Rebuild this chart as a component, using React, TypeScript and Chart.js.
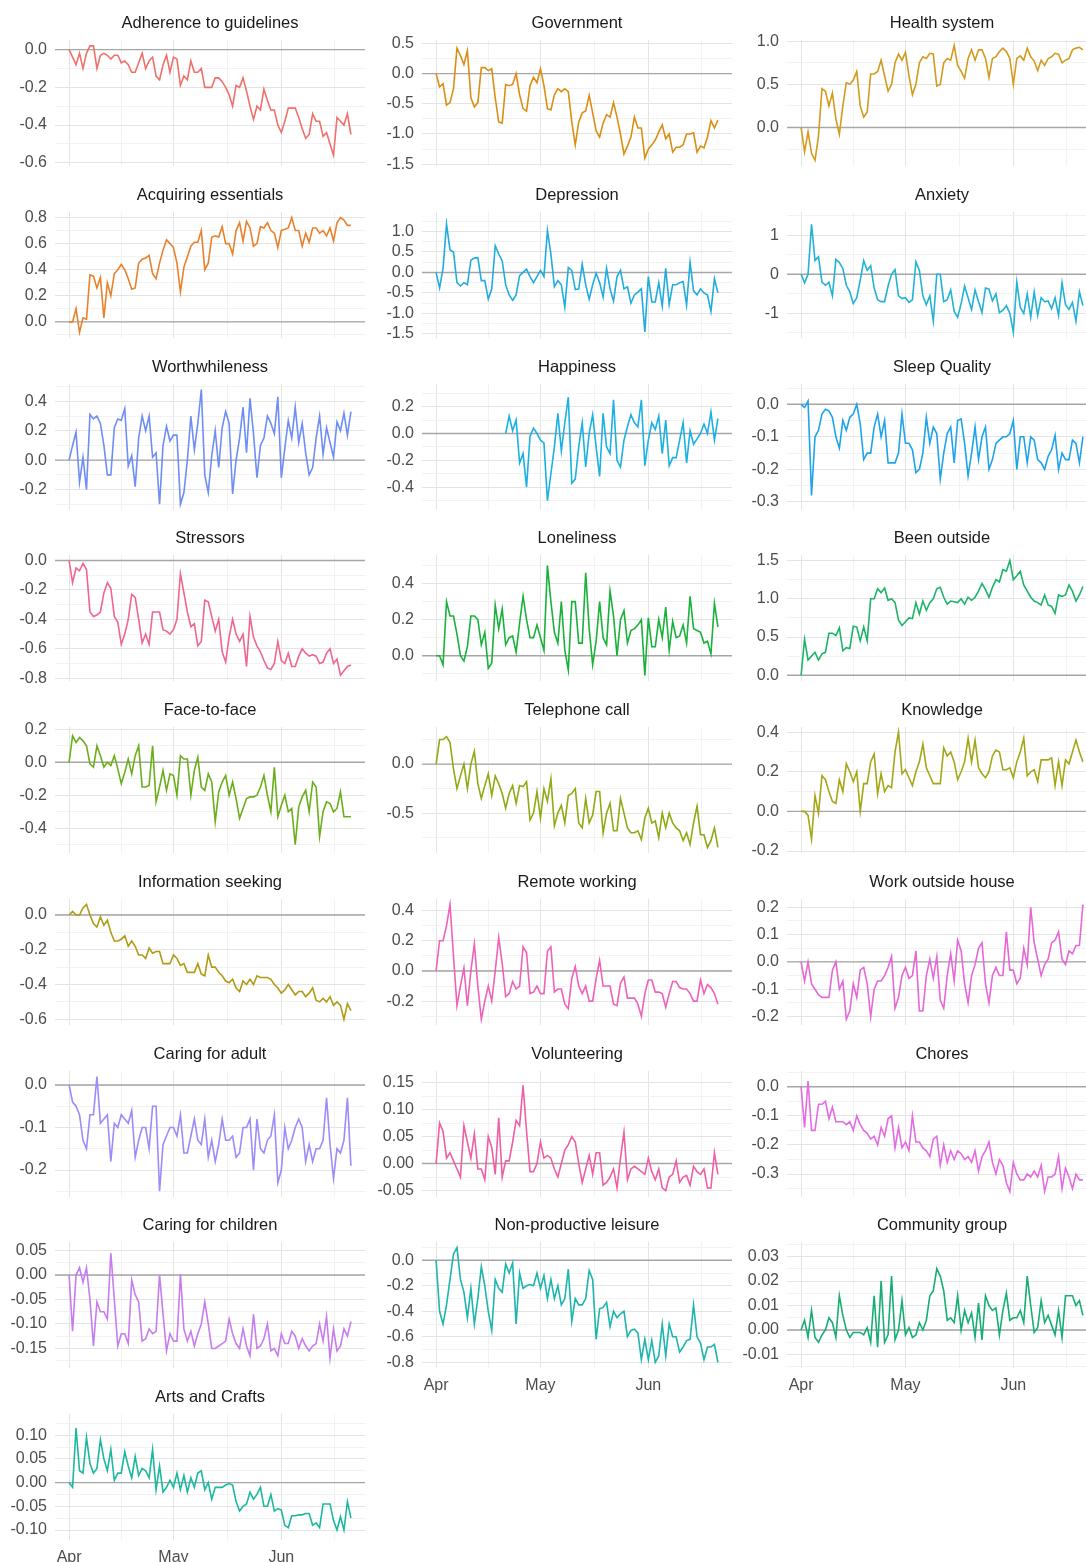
import React, { useEffect, useRef } from 'react';
import { Chart, registerables } from 'chart.js';

Chart.register(...registerables);

// x values: days since 1 April (Apr 1 .. Jun 21)
const days = Array.from({ length: 82 }, (_, i) => i);
const monthDays = [0, 30, 61];
const monthNames = ['Apr', 'May', 'Jun'];
const monthMinorDays = [15, 45.5, 76.25];

const adherence = [
  0, -0.04, -0.08, -0.02, -0.1, -0.02, 0.02, 0.02, -0.1, -0.03,
  -0.02, -0.03, -0.05, -0.03, -0.03, -0.07, -0.06, -0.08, -0.12, -0.12,
  -0.07, -0.02, -0.1, -0.06, -0.04, -0.14, -0.16, -0.08, -0.03, -0.12,
  -0.04, -0.05, -0.19, -0.14, -0.16, -0.06, -0.12, -0.12, -0.1, -0.2,
  -0.2, -0.2, -0.15, -0.15, -0.17, -0.2, -0.24, -0.3, -0.19, -0.2,
  -0.15, -0.22, -0.3, -0.37, -0.3, -0.32, -0.21, -0.27, -0.32, -0.32,
  -0.4, -0.44, -0.38, -0.31, -0.31, -0.31, -0.36, -0.42, -0.47, -0.45,
  -0.34, -0.38, -0.38, -0.46, -0.44, -0.5, -0.56, -0.36, -0.38, -0.4,
  -0.34, -0.45,
];
const government = [
  0, -0.22, -0.17, -0.52, -0.48, -0.25, 0.42, 0.3, 0.15, 0.38,
  -0.4, -0.55, -0.48, 0.1, 0.1, 0.05, 0.08, -0.4, -0.8, -0.82,
  -0.18, -0.2, -0.18, 0, -0.35, -0.58, -0.62, -0.2, -0.06, -0.15,
  0.08, -0.2, -0.58, -0.6, -0.35, -0.25, -0.3, -0.25, -0.3, -0.8,
  -1.18, -0.8, -0.65, -0.62, -0.36, -0.65, -0.95, -1.05, -0.82, -0.68,
  -0.72, -0.48, -0.72, -1.0, -1.33, -1.2, -1.05, -0.72, -0.9, -0.9,
  -1.4, -1.25, -1.18, -1.1, -0.97, -0.85, -1.08, -1.0, -1.3, -1.22,
  -1.22, -1.18, -1.0, -1.0, -0.98, -1.3, -1.2, -1.23, -1.05, -0.78,
  -0.9, -0.77,
];
const healthSystem = [
  0, -0.28, -0.05, -0.3, -0.38, -0.1, 0.45, 0.42, 0.25, 0.4,
  0.1, -0.08, 0.25, 0.52, 0.5, 0.55, 0.65, 0.25, 0.12, 0.18,
  0.62, 0.62, 0.65, 0.78, 0.6, 0.42, 0.5, 0.75, 0.85, 0.78,
  0.87, 0.6, 0.38, 0.5, 0.75, 0.82, 0.8, 0.86, 0.85, 0.48,
  0.5, 0.75, 0.8, 0.78, 0.95, 0.72, 0.65, 0.57, 0.8, 0.9,
  0.78, 0.9, 0.9, 0.8, 0.58, 0.8, 0.82, 0.88, 0.92, 0.88,
  0.8, 0.5, 0.8, 0.83, 0.78, 0.92, 0.82, 0.77, 0.66, 0.78,
  0.72, 0.8, 0.82, 0.86, 0.85, 0.75, 0.78, 0.8, 0.9, 0.92,
  0.93, 0.9,
];
const acquiringEssentials = [
  0, 0, 0.1, -0.08, 0.03, 0.02, 0.36, 0.35, 0.26, 0.34,
  0.03, 0.3, 0.2, 0.37, 0.4, 0.44, 0.4, 0.33, 0.25, 0.26,
  0.45, 0.48, 0.49, 0.51, 0.37, 0.33, 0.45, 0.55, 0.63, 0.6,
  0.57, 0.45, 0.23, 0.42, 0.5, 0.58, 0.61, 0.61, 0.7, 0.4,
  0.45, 0.65, 0.66, 0.65, 0.73, 0.6, 0.6, 0.52, 0.7, 0.76,
  0.62, 0.77, 0.72, 0.58, 0.6, 0.73, 0.72, 0.76, 0.7, 0.68,
  0.57, 0.7, 0.71, 0.72, 0.8, 0.7, 0.7, 0.58, 0.68, 0.61,
  0.72, 0.72, 0.68, 0.7, 0.66, 0.72, 0.62, 0.76, 0.8, 0.78,
  0.74, 0.74,
];
const depression = [
  0, -0.38, 0.1, 1.18, 0.55, 0.5, -0.25, -0.33, -0.25, -0.3,
  0.3, 0.35, 0.36, -0.2, -0.2, -0.65, -0.4, 0.65, 0.45, 0.28,
  -0.3, -0.55, -0.68, -0.55, -0.08, 0, 0.08, -0.1, -0.25, -0.1,
  0.05, -0.1, 1.02, 0.45, -0.35, -0.2, -0.3, -0.85, 0.12, 0.05,
  -0.42, -0.4, 0.2, -0.3, -0.65, -0.3, -0.02, -0.25, -0.6, 0.1,
  -0.4, -0.7, -0.1, 0.05, -0.4, -0.35, -0.75, -0.55, -0.48, -0.4,
  -1.45, -0.1, -0.72, -0.72, -0.25, -0.82, 0.1, -0.78, -0.3, -0.3,
  -0.25, -0.22, -0.8, 0.25, -0.45, -0.55, -0.4, -0.5, -0.55, -0.95,
  -0.15, -0.5,
];
const anxiety = [
  0, -0.22, 0, 1.28, 0.35, 0.45, -0.2, -0.28, -0.2, -0.55,
  0.38, 0.3, 0.15, -0.28, -0.45, -0.75, -0.6, -0.15, 0.35, 0.1,
  0.22, -0.35, -0.65, -0.7, -0.7, -0.3, 0, 0.12, -0.55, -0.62,
  -0.6, -0.72, -0.65, 0.32, 0.1, -0.55, -0.78, -0.55, -1.2, 0,
  0, -0.7, -0.65, -0.4, -0.95, -1.1, -0.75, -0.3, -0.6, -0.9,
  -0.4, -0.7, -0.98, -0.35, -0.38, -0.68, -0.5, -0.98, -0.92, -0.8,
  -1.0, -1.48, -0.2, -0.85, -1.0, -0.5, -1.1, -0.45, -1.05, -0.6,
  -0.7, -0.68, -0.88, -0.6, -1.05, -0.22, -0.78, -0.9, -0.72, -1.2,
  -0.45, -0.8,
];
const worthwhileness = [
  0, 0.1, 0.19, -0.15, 0.02, -0.2, 0.31, 0.28, 0.3, 0.25,
  0.1, -0.1, -0.1, 0.22, 0.28, 0.27, 0.35, -0.04, 0.03, -0.18,
  0.15, 0.3, 0.2, 0.3, 0.02, 0.05, -0.3, 0.1, 0.23, 0.13,
  0.17, 0.17, -0.3, -0.22, 0, 0.3, 0.07, 0.25, 0.48, -0.1,
  -0.22, 0.03, 0.2, -0.05, 0.22, 0.33, 0.25, -0.23, 0, 0.15,
  0.36, 0.05, 0.42, 0.18, -0.12, 0.1, 0.15, 0.3, 0.25, 0.18,
  0.43, -0.12, 0.08, 0.27, 0.15, 0.36, 0.12, 0.25, 0.05, -0.1,
  -0.05, 0.15, 0.3, 0.04, 0.22, 0.12, 0.02, 0.26, 0.2, 0.32,
  0.17, 0.33,
];
const happiness = [
  null, null, null, null, null, null, null, null, null, null,
  null, null, null, null, null, null, null, null, null, null,
  0, 0.13, 0.02, 0.1, -0.22, -0.15, -0.4, -0.02, 0.04, 0,
  -0.05, -0.07, -0.5, -0.3, -0.1, 0.15, -0.13, 0.08, 0.27, -0.37,
  -0.34, -0.1, 0.08, -0.25, 0, 0.14, -0.1, -0.32, 0.15, -0.1,
  -0.15, 0.25, -0.2, -0.25, -0.05, 0.05, 0.14, 0.08, 0.05, 0.25,
  -0.24, -0.05, 0.08, 0.03, 0.13, -0.15, 0.1, -0.24, -0.18, -0.18,
  -0.05, 0.08, -0.22, 0.02, -0.08, -0.04, 0, 0.07, 0, 0.16,
  -0.05, 0.11,
];
const sleepQuality = [
  0, -0.01, 0.01, -0.28, -0.1, -0.08, -0.03, -0.015, -0.02, -0.04,
  -0.1, -0.135, -0.05, -0.08, -0.04, -0.03, 0, -0.06, -0.17, -0.15,
  -0.15, -0.07, -0.03, -0.1, -0.05, -0.18, -0.18, -0.18, -0.15, -0.03,
  -0.12, -0.12, -0.14, -0.21, -0.2, -0.15, -0.04, -0.12, -0.07, -0.09,
  -0.23, -0.15, -0.09, -0.07, -0.18, -0.05, -0.045, -0.12, -0.22, -0.15,
  -0.07, -0.17, -0.1, -0.07, -0.2, -0.17, -0.12, -0.11, -0.1, -0.1,
  -0.09, -0.05, -0.2, -0.1, -0.1, -0.18, -0.1, -0.11, -0.17, -0.18,
  -0.2, -0.16, -0.14, -0.095, -0.2, -0.15, -0.17, -0.17, -0.11, -0.12,
  -0.18, -0.1,
];
const stressors = [
  0, -0.15, -0.05, -0.07, -0.02, -0.06, -0.35, -0.38, -0.37, -0.35,
  -0.22, -0.15, -0.19, -0.38, -0.42, -0.57, -0.5, -0.4, -0.23, -0.25,
  -0.4, -0.56, -0.5, -0.57, -0.35, -0.35, -0.35, -0.47, -0.48, -0.5,
  -0.47, -0.4, -0.09, -0.22, -0.35, -0.45, -0.43, -0.58, -0.55, -0.27,
  -0.28, -0.38, -0.48, -0.4, -0.62, -0.69, -0.52, -0.4, -0.5, -0.55,
  -0.5, -0.72, -0.38, -0.52, -0.58, -0.62, -0.68, -0.73, -0.74, -0.7,
  -0.55, -0.68, -0.7, -0.63, -0.72, -0.72, -0.65, -0.6, -0.63, -0.65,
  -0.64, -0.65, -0.7, -0.69, -0.63, -0.6, -0.7, -0.67, -0.78, -0.75,
  -0.72, -0.71,
];
const loneliness = [
  0, 0, -0.05, 0.3, 0.22, 0.22, 0.12, 0, -0.03, 0.05,
  0.22, 0.22, 0.2, 0.06, 0.13, -0.07, -0.04, 0.28, 0.15, 0.26,
  0.06, 0.1, 0.11, 0.02, 0.18, 0.33, 0.2, 0.1, 0.1, 0.17,
  0.1, 0.03, 0.5, 0.3, 0.13, 0.07, 0.3, 0.03, -0.08, 0.3,
  0.3, 0.07, 0.07, 0.46, 0.15, -0.05, 0.08, 0.3, 0.1, 0.06,
  0.36, 0.22, 0, 0.2, 0.25, 0.07, 0.14, 0.15, 0.17, 0.2,
  -0.11, 0.21, 0.05, 0.05, 0.2, 0.1, 0.27, 0.03, 0.19, 0.1,
  0.11, 0.17, 0.07, 0.33, 0.15, 0.14, 0.13, 0.07, 0.08, 0.01,
  0.29, 0.16,
];
const beenOutside = [
  0, 0.47, 0.2, 0.25, 0.3, 0.2, 0.28, 0.3, 0.55, 0.55,
  0.52, 0.62, 0.32, 0.36, 0.35, 0.64, 0.63, 0.45, 0.63, 0.45,
  1.0, 1.0, 1.13, 1.08, 1.14, 0.98, 1.0, 0.95, 0.72, 0.65,
  0.7, 0.75, 0.74, 0.95, 0.8, 0.97, 0.85, 0.95, 1.0, 1.13,
  1.15, 1.02, 0.93, 0.97, 0.96, 0.95, 1.0, 0.93, 1.02, 0.98,
  1.02, 1.1, 1.2, 1.12, 1.02, 1.15, 1.25, 1.22, 1.38, 1.36,
  1.5, 1.25, 1.3, 1.36, 1.18, 1.1, 1.02, 0.97, 0.95, 0.92,
  1.05, 0.92, 0.9, 0.81, 1.05, 1.03, 1.05, 1.18, 1.1, 0.97,
  1.05, 1.16,
];
const faceToFace = [
  0, 0.16, 0.12, 0.15, 0.13, 0.1, -0.01, -0.03, 0.1, 0.04,
  -0.03, 0, -0.02, 0.04, -0.04, -0.13, -0.06, 0.02, -0.07, 0.04,
  0.1, -0.15, -0.15, -0.14, 0.1, -0.24, -0.15, -0.05, -0.17, -0.07,
  -0.08, -0.2, 0.04, 0.02, 0.02, -0.2, -0.05, 0.03, -0.15, -0.17,
  -0.07, -0.12, -0.36, -0.18, -0.12, -0.08, -0.2, -0.12, -0.22, -0.34,
  -0.28, -0.22, -0.21, -0.21, -0.2, -0.15, -0.08, -0.2, -0.3, -0.03,
  -0.33, -0.26, -0.2, -0.3, -0.28, -0.5, -0.27, -0.21, -0.17, -0.3,
  -0.12, -0.15, -0.45, -0.3, -0.24, -0.25, -0.3, -0.28, -0.18, -0.33,
  -0.33, -0.33,
];
const telephoneCall = [
  0, 0.25, 0.25, 0.28, 0.22, -0.05, -0.25, -0.12, 0, -0.25,
  0, 0.13, -0.2, -0.35, -0.22, -0.1, -0.32, -0.12, -0.2, -0.3,
  -0.45, -0.3, -0.22, -0.4, -0.22, -0.23, -0.18, -0.57, -0.5, -0.28,
  -0.55, -0.25, -0.38, -0.15, -0.63, -0.5, -0.42, -0.6, -0.32, -0.3,
  -0.25, -0.6, -0.65, -0.35, -0.6, -0.52, -0.28, -0.28, -0.7, -0.5,
  -0.4, -0.68, -0.68, -0.35, -0.5, -0.65, -0.7, -0.7, -0.68, -0.77,
  -0.55, -0.45, -0.6, -0.58, -0.75, -0.5, -0.65, -0.5, -0.6, -0.65,
  -0.68, -0.78, -0.7, -0.82, -0.6, -0.43, -0.72, -0.72, -0.85, -0.78,
  -0.65, -0.85,
];
const knowledge = [
  0, 0, -0.02, -0.14, 0.08, -0.01, 0.18, 0.16, 0.1, 0.05,
  0.04, 0.16, 0.1, 0.24, 0.2, 0.15, 0.2, 0, 0.14, 0.14,
  0.25, 0.29, 0.09, 0.19, 0.1, 0.13, 0.12, 0.3, 0.4, 0.19,
  0.21, 0.17, 0.13, 0.2, 0.25, 0.34, 0.22, 0.18, 0.14, 0.14,
  0.14, 0.32, 0.28, 0.3, 0.25, 0.16, 0.2, 0.25, 0.37, 0.25,
  0.36, 0.22, 0.19, 0.17, 0.2, 0.28, 0.31, 0.3, 0.21, 0.21,
  0.22, 0.17, 0.25, 0.3, 0.37, 0.18, 0.2, 0.21, 0.15, 0.26,
  0.26, 0.26, 0.27, 0.13, 0.25, 0.13, 0.26, 0.24, 0.3, 0.36,
  0.3, 0.25,
];
const informationSeeking = [
  0, 0.02, 0, 0, 0.04, 0.06, 0, -0.05, -0.07, -0.01,
  -0.06, -0.03, -0.1, -0.15, -0.15, -0.14, -0.12, -0.18, -0.15, -0.18,
  -0.23, -0.23, -0.25, -0.19, -0.22, -0.21, -0.21, -0.28, -0.28, -0.28,
  -0.23, -0.25, -0.29, -0.28, -0.33, -0.33, -0.33, -0.28, -0.34, -0.35,
  -0.23, -0.3, -0.3, -0.33, -0.35, -0.38, -0.39, -0.37, -0.42, -0.44,
  -0.38, -0.4, -0.37, -0.4, -0.35, -0.36, -0.36, -0.36, -0.37, -0.4,
  -0.42, -0.45, -0.43, -0.4, -0.43, -0.46, -0.44, -0.44, -0.47, -0.45,
  -0.42, -0.49, -0.5, -0.48, -0.5, -0.47, -0.52, -0.5, -0.52, -0.6,
  -0.51, -0.55,
];
const remoteWorking = [
  0, 0.2, 0.2, 0.3, 0.44, 0.1, -0.23, -0.1, 0.02, -0.23,
  0, 0.18, -0.1, -0.32, -0.2, -0.1, -0.2, 0, 0.22, 0.05,
  -0.17, -0.15, -0.07, -0.12, -0.1, 0.16, 0.12, -0.15, -0.14, -0.1,
  -0.15, -0.15, 0.13, 0.16, -0.14, -0.12, -0.12, -0.22, -0.25, -0.05,
  0.03, -0.1, -0.15, -0.1, -0.2, -0.2, -0.05, 0.07, -0.1, -0.1,
  -0.1, -0.22, -0.23, -0.08, -0.04, -0.18, -0.18, -0.18, -0.22, -0.3,
  -0.15, -0.06, -0.06, -0.14, -0.14, -0.15, -0.24, -0.15, -0.07, -0.07,
  -0.11, -0.12, -0.12, -0.15, -0.2, -0.2, -0.06, -0.15, -0.09, -0.11,
  -0.15, -0.22,
];
const workOutsideHouse = [
  0, -0.07, 0, -0.08, -0.1, -0.12, -0.13, -0.13, -0.13, -0.03,
  0, -0.1, -0.07, -0.21, -0.18, -0.08, -0.13, -0.03, -0.02, -0.08,
  -0.2, -0.1, -0.07, -0.07, -0.05, -0.02, 0.02, -0.17, -0.13, -0.05,
  -0.02, -0.06, -0.05, 0.04, -0.18, -0.18, -0.05, 0.01, -0.06, 0.02,
  -0.14, -0.17, -0.05, 0.03, -0.07, 0.08, 0.04, -0.08, -0.15, -0.05,
  -0.01, 0.05, 0.07, -0.08, -0.15, -0.05, -0.02, -0.05, -0.05, 0.11,
  -0.03, -0.03, -0.08, -0.06, 0.05, -0.01, 0.2, 0.07, 0.01, -0.05,
  -0.01, 0.01, 0.07, 0.08, 0.11, 0.01, -0.01, 0.04, 0.03, 0.06,
  0.06, 0.21,
];
const caringForAdult = [
  0, -0.04, -0.05, -0.07, -0.13, -0.15, -0.07, -0.07, 0.02, -0.09,
  -0.08, -0.07, -0.18, -0.09, -0.1, -0.07, -0.08, -0.09, -0.06, -0.17,
  -0.13, -0.1, -0.1, -0.15, -0.05, -0.05, -0.25, -0.14, -0.12, -0.1,
  -0.1, -0.12, -0.07, -0.16, -0.16, -0.12, -0.08, -0.13, -0.14, -0.08,
  -0.17, -0.13, -0.18, -0.14, -0.08, -0.13, -0.13, -0.12, -0.17, -0.16,
  -0.1, -0.1, -0.08, -0.2, -0.08, -0.15, -0.16, -0.13, -0.12, -0.07,
  -0.23, -0.2, -0.1, -0.15, -0.13, -0.1, -0.08, -0.1, -0.18, -0.14,
  -0.18, -0.15, -0.15, -0.13, -0.03, -0.14, -0.22, -0.15, -0.16, -0.13,
  -0.03, -0.19,
];
const volunteering = [
  0, 0.075, 0.06, 0.01, 0.02, 0.005, -0.01, -0.025, 0.07, 0.04,
  0.01, 0.055, -0.01, -0.01, -0.03, 0.05, 0.03, -0.02, 0.085, -0.025,
  0.005, 0.005, 0.04, 0.08, 0.07, 0.145, 0.06, -0.015, -0.015, 0,
  0.04, 0.01, 0.015, 0.01, -0.01, -0.025, 0, 0.025, 0.035, 0.05,
  0.04, 0, -0.035, -0.01, 0.015, -0.02, 0.02, 0.02, -0.04, -0.035,
  -0.025, -0.01, -0.045, 0.01, 0.058, -0.03, -0.01, -0.005, -0.01, -0.015,
  -0.02, 0.01, -0.015, -0.03, -0.01, -0.045, -0.05, -0.025, -0.02, 0.005,
  -0.035, -0.025, -0.022, -0.04, -0.005, -0.015, -0.02, -0.01, -0.045, -0.045,
  0.02, -0.02,
];
const chores = [
  0, -0.14, 0.02, -0.15, -0.15, -0.06, -0.06, -0.05, -0.11, -0.07,
  -0.12, -0.12, -0.12, -0.13, -0.12, -0.15, -0.1, -0.13, -0.15, -0.16,
  -0.18, -0.17, -0.2, -0.14, -0.17, -0.11, -0.1, -0.21, -0.14, -0.21,
  -0.19, -0.22, -0.1, -0.19, -0.19, -0.21, -0.22, -0.24, -0.18, -0.17,
  -0.27, -0.2, -0.26, -0.22, -0.25, -0.22, -0.23, -0.25, -0.24, -0.26,
  -0.22, -0.29, -0.24, -0.22, -0.19, -0.26, -0.3, -0.25, -0.27, -0.33,
  -0.36, -0.26, -0.3, -0.32, -0.32, -0.3, -0.31, -0.29, -0.31, -0.27,
  -0.36, -0.31, -0.31, -0.3, -0.24, -0.35, -0.28, -0.31, -0.35, -0.3,
  -0.32, -0.32,
];
const caringForChildren = [
  0, -0.115, 0, 0.015, -0.015, 0.015, -0.05, -0.145, -0.055, -0.075,
  -0.075, -0.09, 0.045, -0.05, -0.145, -0.12, -0.12, -0.14, -0.01, -0.04,
  -0.055, -0.135, -0.13, -0.11, -0.12, -0.115, 0, -0.08, -0.155, -0.12,
  -0.135, -0.135, 0.002, -0.11, -0.135, -0.115, -0.145, -0.12, -0.1, -0.055,
  -0.1, -0.15, -0.15, -0.145, -0.14, -0.135, -0.09, -0.12, -0.14, -0.15,
  -0.11, -0.145, -0.165, -0.08, -0.15, -0.145, -0.13, -0.1, -0.155, -0.15,
  -0.165, -0.12, -0.14, -0.14, -0.115, -0.125, -0.15, -0.13, -0.145, -0.155,
  -0.145, -0.14, -0.1, -0.135, -0.085, -0.17, -0.11, -0.155, -0.145, -0.11,
  -0.125, -0.095,
];
const nonProductiveLeisure = [
  0, -0.4, -0.5, -0.35, -0.15, 0.05, 0.1, -0.15, -0.25, -0.45,
  -0.22, -0.5, -0.3, -0.05, -0.2, -0.4, -0.55, -0.15, -0.22, -0.25,
  -0.03, -0.1, -0.02, -0.5, -0.1, -0.22, -0.2, -0.19, -0.2, -0.1,
  -0.22, -0.12, -0.3, -0.15, -0.3, -0.2, -0.35, -0.3, -0.07, -0.48,
  -0.3, -0.35, -0.35, -0.3, -0.08, -0.15, -0.62, -0.38, -0.37, -0.33,
  -0.52, -0.4, -0.45, -0.42, -0.4, -0.6, -0.55, -0.54, -0.57, -0.78,
  -0.62, -0.78, -0.63, -0.8, -0.75, -0.5, -0.75, -0.5, -0.6, -0.6,
  -0.72, -0.68, -0.63, -0.62, -0.35, -0.6, -0.65, -0.78, -0.68, -0.68,
  -0.66, -0.8,
];
const communityGroup = [
  0, 0.004, -0.003, 0.008, -0.003, -0.005, -0.002, 0, 0.005, 0.003,
  -0.003, 0.014, 0.006, 0, -0.003, -0.001, -0.001, -0.001, -0.002, 0.001,
  -0.005, 0.014, -0.007, 0.02, -0.005, -0.002, 0.022, -0.004, 0, 0.012,
  -0.002, 0.001, -0.003, -0.002, 0.003, 0, 0.004, 0.014, 0.016, 0.025,
  0.022, 0.016, 0.004, 0.005, 0.003, 0.014, 0, 0.008, 0.003, 0.007,
  -0.003, 0.011, -0.004, 0.014, 0.01, 0.008, 0.009, -0.002, 0.008, 0.015,
  0.004, 0.005, 0.005, 0.008, 0.003, 0.022, 0.01, -0.001, 0.001, 0.012,
  0.003, 0.006, 0.002, -0.002, 0.008, -0.003, 0.014, 0.014, 0.014, 0.01,
  0.012, 0.006,
];
const artsAndCrafts = [
  0, -0.01, 0.115, 0.025, 0.02, 0.095, 0.04, 0.02, 0.03, 0.09,
  0.05, 0.025, 0.07, 0.005, 0.02, 0.02, 0.065, 0.035, 0.01, 0.055,
  0.015, 0.03, 0.025, 0.01, 0.07, -0.015, 0.035, -0.02, -0.01, 0.005,
  -0.01, 0.02, -0.015, 0.015, -0.02, 0.01, -0.01, 0.02, 0.025, -0.015,
  0, -0.035, -0.01, -0.01, -0.01, -0.005, -0.002, -0.005, -0.04, -0.06,
  -0.05, -0.045, -0.02, -0.035, -0.025, -0.01, -0.05, -0.05, -0.025, -0.06,
  -0.055, -0.058, -0.09, -0.095, -0.07, -0.07, -0.068, -0.068, -0.065, -0.065,
  -0.09, -0.085, -0.095, -0.045, -0.045, -0.045, -0.08, -0.1, -0.072, -0.1,
  -0.04, -0.075,
];

type PanelDef = {
  title: string;
  values: (number | null)[];
  ticks: number[];
  digits: number;
  color: string;
  lo?: number;
  hi?: number;
};

// lo / hi: axis limits where the original range (with its confidence band) is wider than the line
const panels: PanelDef[] = [
  { title: 'Adherence to guidelines', values: adherence, ticks: [-0.6, -0.4, -0.2, 0], digits: 1, color: '#F0706A', lo: -0.617, hi: 0.052 },
  { title: 'Government', values: government, ticks: [-1.5, -1, -0.5, 0, 0.5], digits: 1, color: '#DB8E12', lo: -1.53, hi: 0.56 },
  { title: 'Health system', values: healthSystem, ticks: [0, 0.5, 1], digits: 1, color: '#D39B1E' },
  { title: 'Acquiring essentials', values: acquiringEssentials, ticks: [0, 0.2, 0.4, 0.6, 0.8], digits: 1, color: '#E8822E' },
  { title: 'Depression', values: depression, ticks: [-1.5, -1, -0.5, 0, 0.5, 1], digits: 1, color: '#21ACE0', lo: -1.6, hi: 1.48 },
  { title: 'Anxiety', values: anxiety, ticks: [-1, 0, 1], digits: 0, color: '#22B2D6', lo: -1.63, hi: 1.6 },
  { title: 'Worthwhileness', values: worthwhileness, ticks: [-0.2, 0, 0.2, 0.4], digits: 1, color: '#6E8EF5' },
  { title: 'Happiness', values: happiness, ticks: [-0.4, -0.2, 0, 0.2], digits: 1, color: '#1CB1E4', lo: -0.57, hi: 0.37 },
  { title: 'Sleep Quality', values: sleepQuality, ticks: [-0.3, -0.2, -0.1, 0], digits: 1, color: '#1FA3EC', lo: -0.325, hi: 0.063 },
  { title: 'Stressors', values: stressors, ticks: [-0.8, -0.6, -0.4, -0.2, 0], digits: 1, color: '#F0668D' },
  { title: 'Loneliness', values: loneliness, ticks: [0, 0.2, 0.4], digits: 1, color: '#18B23A', hi: 0.56 },
  { title: 'Been outside', values: beenOutside, ticks: [0, 0.5, 1, 1.5], digits: 1, color: '#1EB36A' },
  { title: 'Face-to-face', values: faceToFace, ticks: [-0.4, -0.2, 0, 0.2], digits: 1, color: '#6BAE1C', lo: -0.55, hi: 0.215 },
  { title: 'Telephone call', values: telephoneCall, ticks: [-0.5, 0], digits: 1, color: '#8EAA14', hi: 0.38 },
  { title: 'Knowledge', values: knowledge, ticks: [-0.2, 0, 0.2, 0.4], digits: 1, color: '#A5A616', lo: -0.21 },
  { title: 'Information seeking', values: informationSeeking, ticks: [-0.6, -0.4, -0.2, 0], digits: 1, color: '#B19B16' },
  { title: 'Remote working', values: remoteWorking, ticks: [-0.2, 0, 0.2, 0.4], digits: 1, color: '#F061B8' },
  { title: 'Work outside house', values: workOutsideHouse, ticks: [-0.2, -0.1, 0, 0.1, 0.2], digits: 1, color: '#E567D8' },
  { title: 'Caring for adult', values: caringForAdult, ticks: [-0.2, -0.1, 0], digits: 1, color: '#9C8BFA' },
  { title: 'Volunteering', values: volunteering, ticks: [-0.05, 0, 0.05, 0.1, 0.15], digits: 2, color: '#EE5FA5', lo: -0.062, hi: 0.172 },
  { title: 'Chores', values: chores, ticks: [-0.3, -0.2, -0.1, 0], digits: 1, color: '#E46BE3', hi: 0.055 },
  { title: 'Caring for children', values: caringForChildren, ticks: [-0.15, -0.1, -0.05, 0, 0.05], digits: 2, color: '#C77CF0', lo: -0.19, hi: 0.068 },
  { title: 'Non-productive leisure', values: nonProductiveLeisure, ticks: [-0.8, -0.6, -0.4, -0.2, 0], digits: 1, color: '#1DB5AD' },
  { title: 'Community group', values: communityGroup, ticks: [-0.01, 0, 0.01, 0.02, 0.03], digits: 2, color: '#16AE73', lo: -0.0155, hi: 0.036 },
  { title: 'Arts and Crafts', values: artsAndCrafts, ticks: [-0.1, -0.05, 0, 0.05, 0.1], digits: 2, color: '#1CB8A0', lo: -0.121, hi: 0.145 },
];

const FONT = '"Liberation Sans", Arial, Helvetica, sans-serif';
const COL_LEFT = [0, 367, 732];
const ROW_TOP = 8;
const ROW_PITCH = 171.75;
const AXIS_W = 55;
const PLOT_W = 310;
const TITLE_H = 30;
const PLOT_H = 128;
const XAXIS_H = 26;
const CANVAS_W = AXIS_W + PLOT_W;
const CANVAS_H = TITLE_H + PLOT_H + XAXIS_H;

const near = (a: number, b: number) => Math.abs(a - b) < 1e-9;

const zeroLine = {
  id: 'zeroLine',
  beforeDatasetsDraw(chart: any) {
    const { ctx, chartArea, scales } = chart;
    const y = scales.y.getPixelForValue(0);
    ctx.save();
    ctx.strokeStyle = '#A6A6A6';
    ctx.lineWidth = 1.4;
    ctx.beginPath();
    ctx.moveTo(chartArea.left, y);
    ctx.lineTo(chartArea.right, y);
    ctx.stroke();
    ctx.restore();
  },
};

function Panel({ def, index }: { def: PanelDef; index: number }) {
  const ref = useRef<HTMLCanvasElement>(null);
  const col = index % 3;
  const row = Math.floor(index / 3);
  const showX = index >= panels.length - 3;

  useEffect(() => {
    if (!ref.current) return;
    const finite = def.values.filter((v) => v !== null) as number[];
    const dMin = Math.min(...finite);
    const dMax = Math.max(...finite);
    const pad = (dMax - dMin) * 0.05;
    const yMin = def.lo ?? dMin - pad;
    const yMax = def.hi ?? dMax + pad;

    const majors = def.ticks;
    const step = majors[1] - majors[0];
    const minors: number[] = [majors[0] - step / 2];
    for (let i = 0; i < majors.length - 1; i++) minors.push((majors[i] + majors[i + 1]) / 2);
    minors.push(majors[majors.length - 1] + step / 2);
    const yTicks = [...majors, ...minors].filter((v) => v >= yMin && v <= yMax).sort((a, b) => a - b);
    const xTicks = [...monthDays, ...monthMinorDays].sort((a, b) => a - b);

    const isYMajor = (v: number) => majors.some((m) => near(m, v));
    const isXMajor = (v: number) => monthDays.some((m) => near(m, v));

    const chart = new Chart(ref.current, {
      type: 'line',
      data: {
        datasets: [
          {
            data: days.map((d, i) => ({ x: d, y: def.values[i] })),
            borderColor: def.color,
            borderWidth: 1.6,
            pointRadius: 0,
            tension: 0,
            spanGaps: false,
            fill: false,
          },
        ],
      },
      options: {
        animation: false,
        responsive: false,
        events: [],
        layout: { padding: 0 },
        plugins: {
          legend: { display: false },
          tooltip: { enabled: false },
          title: {
            display: true,
            text: def.title,
            fullSize: false,
            color: '#1A1A1A',
            font: { family: FONT, size: 16.5, weight: 'normal', lineHeight: 1.2 },
            padding: { top: 6, bottom: 6 },
          },
        },
        scales: {
          x: {
            type: 'linear',
            min: -4.05,
            max: 85.05,
            afterBuildTicks: (s: any) => {
              s.ticks = xTicks.map((v) => ({ value: v }));
            },
            afterFit: (s: any) => {
              s.height = XAXIS_H;
            },
            border: { display: false },
            grid: {
              drawTicks: false,
              color: (c: any) => (isXMajor(c.tick.value) ? '#E4E4E4' : '#EFEFEF'),
              lineWidth: (c: any) => (isXMajor(c.tick.value) ? 1 : 0.8),
            },
            ticks: {
              display: showX,
              autoSkip: false,
              maxRotation: 0,
              padding: 8,
              color: '#4D4D4D',
              font: { family: FONT, size: 16 },
              callback: (v: any) => {
                const k = monthDays.findIndex((m) => near(m, Number(v)));
                return k >= 0 ? monthNames[k] : '';
              },
            },
          },
          y: {
            type: 'linear',
            min: yMin,
            max: yMax,
            afterBuildTicks: (s: any) => {
              s.ticks = yTicks.map((v) => ({ value: v }));
            },
            afterFit: (s: any) => {
              s.width = AXIS_W;
            },
            border: { display: false },
            grid: {
              drawTicks: false,
              color: (c: any) => (isYMajor(c.tick.value) ? '#E4E4E4' : '#EFEFEF'),
              lineWidth: (c: any) => (isYMajor(c.tick.value) ? 1 : 0.8),
            },
            ticks: {
              autoSkip: false,
              padding: 8,
              color: '#4D4D4D',
              font: { family: FONT, size: 16 },
              callback: (v: any) => {
                const n = Number(v);
                if (!isYMajor(n)) return '';
                const m = majors.find((t) => near(t, n)) as number;
                return near(m, 0) ? (0).toFixed(def.digits) : m.toFixed(def.digits);
              },
            },
          },
        },
      },
      plugins: [zeroLine],
    });

    return () => {
      chart.destroy();
    };
  }, [def, showX]);

  return (
    <canvas
      ref={ref}
      width={CANVAS_W}
      height={CANVAS_H}
      style={{
        position: 'absolute',
        left: COL_LEFT[col],
        top: ROW_TOP + row * ROW_PITCH,
        width: CANVAS_W,
        height: CANVAS_H,
      }}
    />
  );
}

export default function App() {
  return (
    <div
      style={{
        position: 'absolute',
        left: 0,
        top: 0,
        width: 1086,
        height: 1562,
        overflow: 'hidden',
        background: '#FFFFFF',
      }}
    >
      {panels.map((p, i) => (
        <Panel key={p.title} def={p} index={i} />
      ))}
    </div>
  );
}
